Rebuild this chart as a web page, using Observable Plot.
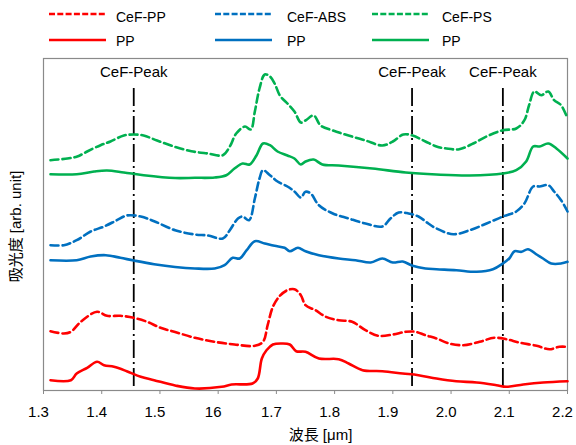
<!DOCTYPE html>
<html>
<head>
<meta charset="utf-8">
<script src="https://cdn.jsdelivr.net/npm/d3@7"></script>
<script src="https://cdn.jsdelivr.net/npm/@observablehq/plot@0.6"></script>
<style>
  body { margin: 0; background: #fff; font-family: "Liberation Sans", Arial, "Noto Sans CJK JP", sans-serif; }
  #legend { position: relative; width: 576px; height: 50px; }
  #chart { height: 395px; }
  #chart svg { display: block; }
  .item { position: absolute; font-size: 14px; color: #000; }
  .swatch { position: absolute; }
</style>
</head>
<body>
<div id="legend"></div>
<div id="chart"></div>
<script>
// ---------- data (wavelength in µm, absorbance in arbitrary units) ----------
const xTicks = [1.3, 1.4, 1.5, 1.6, 1.7, 1.8, 1.9, 2.0, 2.1, 2.2];
const xTickLabels = ["1.3", "1.4", "1.5", "16", "1.7", "1.8", "1.9", "2.0", "2.1", "2.2"];
const peakWavelengths = [1.455, 1.933, 2.089];
const peakLabel = "CeF-Peak";

const wlCeFPS = [1.312,1.341,1.358,1.375,1.398,1.415,1.438,1.455,1.472,1.495,1.524,1.554,1.582,1.608,1.620,1.631,1.646,1.656,1.663,1.671,1.680,1.689,1.697,1.706,1.719,1.731,1.742,1.750,1.764,1.776,1.797,1.824,1.853,1.882,1.900,1.918,1.934,1.956,1.975,1.992,2.014,2.038,2.061,2.089,2.112,2.126,2.134,2.143,2.155,2.167,2.177,2.189,2.200];
const absCeFPS = [230.3,232,234,239,245.3,249,255,256,255,250,244,239.3,237,235.3,244,257,264,261,279,302,316,314,307,295,287,279,268,270,275,265,260,255,250,245,249,256,255,249,244,242,241.3,247,254,260.3,262,270.3,285.3,299,295.3,299,290.3,285.3,272];

const wlPS = [1.312,1.357,1.387,1.409,1.438,1.472,1.526,1.560,1.594,1.614,1.628,1.642,1.654,1.666,1.677,1.689,1.702,1.719,1.731,1.742,1.750,1.764,1.779,1.807,1.865,1.922,1.975,2.032,2.089,2.112,2.129,2.141,2.152,2.167,2.181,2.200];
const absPS = [216.3,216.3,219,220,218,215.3,212.5,212.7,213,215.3,222,227,226,235.3,247,245.3,239,235,232,226,229,231,226,225,222,218,216,215,217,220.3,229,244,244,247,242,232];

const wlCeFABS = [1.312,1.335,1.357,1.381,1.404,1.426,1.443,1.467,1.490,1.526,1.560,1.582,1.608,1.620,1.634,1.642,1.653,1.663,1.671,1.677,1.689,1.702,1.719,1.731,1.742,1.750,1.759,1.773,1.797,1.824,1.853,1.882,1.896,1.910,1.927,1.944,1.961,1.975,2.004,2.032,2.061,2.089,2.112,2.126,2.141,2.152,2.167,2.177,2.189,2.200];
const absCeFABS = [145.3,145.3,150.3,159,164,170.3,175,174,169.3,160.3,156,155,152,160.3,172,174,170.3,192,212,220.3,215.3,209,204,199,193,198.7,197,185.3,177,172,167,164,172,178,177,174,167,162,156.3,160.3,167,174,179,187,204,204,205.3,199,190.3,179];

const wlABS = [1.312,1.357,1.381,1.407,1.432,1.455,1.490,1.526,1.560,1.594,1.611,1.625,1.637,1.649,1.663,1.680,1.697,1.714,1.723,1.737,1.750,1.773,1.807,1.836,1.862,1.882,1.900,1.917,1.934,1.956,1.975,2.009,2.044,2.072,2.089,2.100,2.109,2.121,2.132,2.147,2.158,2.172,2.189,2.200];
const absABS = [130.3,130.3,134,135.3,132.7,130,126.3,123.5,122,122,125.3,132.7,132,140.3,149.3,147,144.7,142.7,139.3,142.7,139.3,135.3,132,130.3,128,132,128,129,124.7,122,121.3,120.3,118.7,121.3,127,132,139.3,138.7,141.3,136,132,127,127,128.7];

const wlCeFPP = [1.312,1.335,1.347,1.364,1.392,1.409,1.432,1.455,1.478,1.501,1.526,1.560,1.594,1.628,1.663,1.677,1.685,1.694,1.706,1.719,1.731,1.742,1.750,1.767,1.785,1.807,1.830,1.853,1.875,1.900,1.922,1.939,1.956,1.975,1.997,2.021,2.049,2.074,2.095,2.117,2.147,2.169,2.186,2.200];
const absCeFPP = [59.3,57,58.7,68.7,78.7,74.7,74.7,72.7,68.7,62.7,58.5,52.7,48.7,46,44.7,48.7,65.3,83.7,94.7,100.3,101.3,95.3,85.3,80.3,73.7,70.3,68.7,60.3,54.7,56,58.7,58.7,55.3,52,47,45.3,48.7,52.7,51.3,48,44.7,41.3,43.7,43.7];

const wlPP = [1.312,1.347,1.357,1.375,1.392,1.404,1.421,1.443,1.467,1.490,1.526,1.560,1.606,1.623,1.659,1.668,1.675,1.683,1.694,1.709,1.723,1.734,1.750,1.773,1.807,1.824,1.848,1.882,1.917,1.944,1.975,2.009,2.044,2.078,2.095,2.124,2.158,2.200];
const absPP = [10.3,10.3,17,22.7,28.7,25.3,23.7,19.3,13.7,10.3,5,2,3.7,6,7,12,32,40.3,46,47,46,39.3,38.7,32,31.3,27,20.3,19.3,17,15.3,12,9.3,8,5.3,3.7,6,8,9.3];

const seriesNames = ["CeF-PP", "PP", "CeF-ABS", "PP", "CeF-PS", "PP"];
const seriesColors = ["#ff0000", "#ff0000", "#0070c0", "#0070c0", "#00b050", "#00b050"];
const seriesDashed = [true, false, true, false, true, false];
const seriesWl = [wlCeFPP, wlPP, wlCeFABS, wlABS, wlCeFPS, wlPS];
const seriesAbs = [absCeFPP, absPP, absCeFABS, absABS, absCeFPS, absPS];

// ---------- legend ----------
const legend = document.getElementById("legend");
const legendCols = [{lx: 49, tx: 116}, {lx: 215, tx: 287}, {lx: 372, tx: 442}];
const legendRows = [{ly: 14, ty: 9}, {ly: 40, ty: 33}];
seriesNames.forEach((name, i) => {
  const col = legendCols[Math.floor(i / 2)], row = legendRows[i % 2];
  const sw = document.createElementNS("http://www.w3.org/2000/svg", "svg");
  sw.setAttribute("width", 57); sw.setAttribute("height", 6);
  sw.setAttribute("class", "swatch");
  sw.style.left = col.lx + "px"; sw.style.top = (row.ly - 3) + "px";
  const ln = document.createElementNS("http://www.w3.org/2000/svg", "line");
  ln.setAttribute("x1", 0); ln.setAttribute("x2", 57); ln.setAttribute("y1", 3); ln.setAttribute("y2", 3);
  ln.setAttribute("stroke", seriesColors[i]); ln.setAttribute("stroke-width", 2.5);
  if (seriesDashed[i]) ln.setAttribute("stroke-dasharray", "6,2.3");
  sw.appendChild(ln);
  legend.appendChild(sw);
  const t = document.createElement("div");
  t.className = "item"; t.textContent = name;
  t.style.left = col.tx + "px"; t.style.top = row.ty + "px";
  legend.appendChild(t);
});

// ---------- chart ----------
const lineMarks = seriesNames.map((name, i) =>
  Plot.line(seriesWl[i].map((w, j) => ({wl: w, abs: seriesAbs[i][j]})), {
    x: "wl", y: "abs", stroke: seriesColors[i], strokeWidth: 2.6,
    strokeDasharray: seriesDashed[i] ? "8,4" : null, curve: "catmull-rom"
  })
);

const chart = Plot.plot({
  width: 576, height: 395,
  marginLeft: 43, marginRight: 9, marginTop: 8, marginBottom: 55,
  style: {fontFamily: "'Liberation Sans', Arial, 'Noto Sans CJK JP', sans-serif", fontSize: "15px", color: "#000", background: "#fff"},
  x: {domain: [1.3, 2.2]},
  y: {domain: [0, 332], axis: null},
  marks: [
    Plot.frame({stroke: "#8a8a8a", strokeWidth: 1.2}),
    Plot.axisX({ticks: xTicks, text: null, tickSize: 4, stroke: "#8a8a8a", label: null}),
    Plot.text(xTicks, {x: d => d, text: (d, i) => xTickLabels[i], frameAnchor: "bottom", lineAnchor: "middle", dy: 22, dx: -5, fontSize: 15, fill: "#000"}),
    Plot.ruleX(peakWavelengths, {stroke: "#000", strokeWidth: 1.8, strokeDasharray: "18,4,2,4", insetTop: 30}),
    Plot.text(peakWavelengths, {x: d => d, text: () => peakLabel, frameAnchor: "top", lineAnchor: "middle", dy: 14, fontSize: 15, fill: "#000"}),
    ...lineMarks,
    Plot.text(["吸光度 [arb. unit]"], {text: d => d, frameAnchor: "left", textAnchor: "middle", lineAnchor: "middle", rotate: -90, dx: -27, dy: 2, fontSize: 15, fill: "#000"}),
    Plot.text(["波長 [μm]"], {text: d => d, frameAnchor: "bottom", lineAnchor: "middle", dy: 44.5, dx: 15, fontSize: 15, fill: "#000"})
  ]
});
document.getElementById("chart").appendChild(chart);
</script>
</body>
</html>
